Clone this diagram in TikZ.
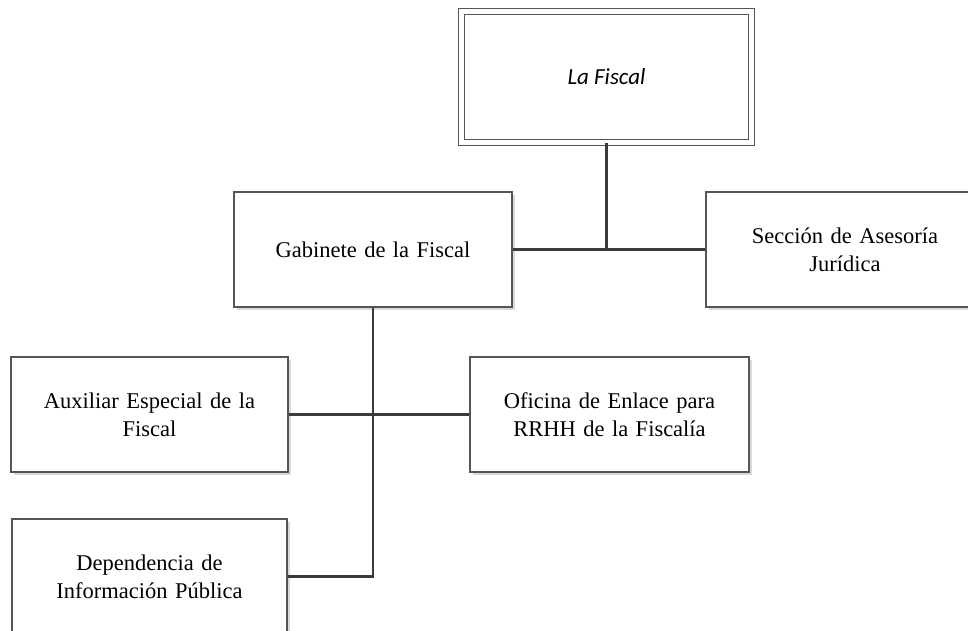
\documentclass[tikz,border=0pt]{standalone}
\usepackage{fontspec}
\setmainfont[WordSpace=0.7]{Liberation Serif}
\newfontfamily\calibri{Carlito}
\usetikzlibrary{shadows}
\definecolor{boxline}{HTML}{555555}
\definecolor{linkline}{HTML}{3A3A3A}
\tikzstyle{unit} = [rectangle, minimum width=277pt, minimum height=115pt, text width=260pt, align=center, draw=boxline, line width=1.5pt, fill=white, drop shadow={shadow xshift=3pt, shadow yshift=-3pt, fill=black!15, opacity=1}, font=\fontsize{22.5}{28}\selectfont]
\tikzstyle{head} = [rectangle, minimum width=290pt, minimum height=131pt, draw=boxline, line width=1.3pt, double=white, double distance=5pt, fill=white, drop shadow={shadow xshift=3pt, shadow yshift=-3pt, fill=black!15, opacity=1}, font=\calibri\itshape\fontsize{23}{26}\selectfont]
\tikzstyle{link} = [line width=2.6pt, draw=linkline]

\begin{document}
\begin{tikzpicture}[x=1pt, y=-1pt]
\useasboundingbox (0,0) rectangle (968,631);
\clip (0,0) rectangle (968,631);
\node (fiscal) [head] at (606.5,77) {La Fiscal};
\node (gabinete) [unit, minimum width=278pt] at (373,249.5) {Gabinete de la Fiscal};
\node (seccion) [unit, minimum width=278pt] at (845,249.5) {Secci\'on de Asesor\'ia\\Jur\'idica};
\node (auxiliar) [unit] at (149.5,414.5) {Auxiliar Especial de la\\Fiscal};
\node (oficina) [unit, minimum width=279pt] at (609.5,414.5) {Oficina de Enlace para\\RRHH de la Fiscal\'ia};
\node (dependencia) [unit, minimum width=275pt] at (149.5,576.5) {Dependencia de\\Informaci\'on P\'ublica};
\draw [link] (fiscal.south) -- (fiscal.south |- gabinete.east);
\draw [link] (gabinete.east) -- (seccion.west);
\draw [link] (gabinete.south) |- (dependencia.east);
\draw [link] (auxiliar.east) -- (oficina.west);
\end{tikzpicture}
\end{document}
